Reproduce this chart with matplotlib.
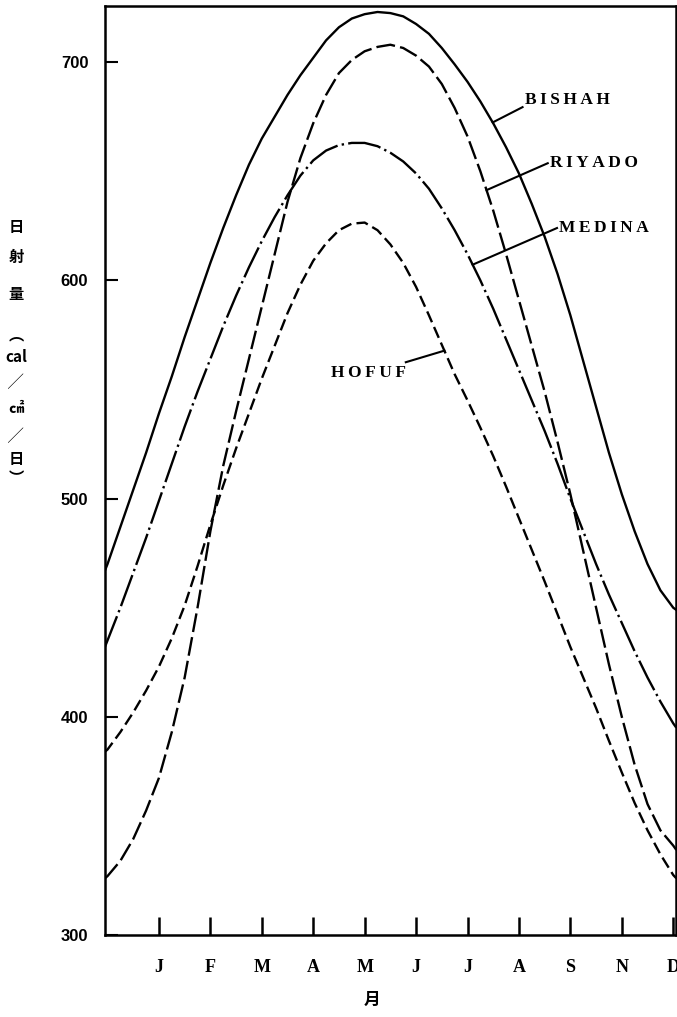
import matplotlib.pyplot as plt
import numpy as np

plt.rcParams['font.family'] = ['Liberation Serif', 'DejaVu Serif']

# months: J=1 ... D=11 tick positions, values every quarter month
months = [-0.05, 0, 0.25, 0.5, 0.75, 1, 1.25, 1.5, 1.75, 2, 2.25, 2.5, 2.75, 3, 3.25, 3.5, 3.75,
          4, 4.25, 4.5, 4.75, 5, 5.25, 5.5, 5.75, 6, 6.25, 6.5, 6.75, 7, 7.25, 7.5, 7.75,
          8, 8.25, 8.5, 8.75, 9, 9.25, 9.5, 9.75, 10, 10.25, 10.5, 10.75, 11, 11.06]
bishah = [467, 470, 487, 504, 521, 539, 556, 574, 591, 608, 624, 639, 653, 665, 675, 685, 694,
          702, 710, 716, 720, 722, 723, 722.5, 721, 717.5, 713, 706.5, 699, 691, 682, 672, 661,
          649, 635, 620, 603, 584, 563, 542, 521, 502, 485, 470, 458, 450, 449]
riyado = [326, 327, 334, 344, 357, 372, 393, 418, 450, 485, 515, 540, 564, 588, 612, 636, 656,
          672, 685, 695, 701, 705, 707, 708, 706.5, 703, 698, 690, 679, 666, 650, 632, 612,
          591, 570, 549, 526, 502, 476, 450, 424, 400, 378, 360, 348, 341, 339]
medina = [432, 435, 450, 466, 482, 499, 516, 533, 549, 564, 579, 593, 606, 618, 629, 639, 648,
          655, 659.5, 662, 663, 663, 661.5, 658.5, 654.5, 649, 642, 633, 623, 612, 600, 587, 573,
          559, 545, 531, 516, 500, 485, 470, 456, 443, 430, 418, 407, 397, 395]
hofuf = [384, 385, 393, 402, 412, 423, 436, 451, 469, 488, 506, 523, 539, 555, 570, 585, 598,
         609, 617, 623, 626, 626.5, 623, 616.5, 608, 597, 584, 570.5, 557, 545, 532.5, 519.5, 505.5,
         491, 476.5, 462, 447, 432, 418, 404, 389, 374.5, 360.5, 348, 337, 327.5, 326]

tick_labels = ['J', 'F', 'M', 'A', 'M', 'J', 'J', 'A', 'S', 'N', 'D']

fig = plt.figure(figsize=(6.77, 10.17), dpi=100)
ax = fig.add_axes([0.155, 0.0806, 0.844, 0.9134])

lw = 1.7
ax.plot(months, bishah, color='black', lw=lw)
ax.plot(months, riyado, color='black', lw=lw, linestyle=(0, (8, 2.2)))
ax.plot(months, medina, color='black', lw=lw, linestyle=(0, (14, 1.8, 1, 1.8)))
ax.plot(months, hofuf, color='black', lw=lw, linestyle=(0, (5, 2.2)))

ax.set_xlim(-0.05, 11.06)
ax.set_ylim(300, 725.7)

ax.set_xticks(range(1, 12))
ax.set_xticklabels(tick_labels, fontsize=13, fontweight='bold')
ax.set_yticks([300, 400, 500, 600, 700])
ax.set_yticklabels(['300', '400', '500', '600', '700'], fontsize=12,
                   fontweight='bold', family=['Liberation Sans', 'DejaVu Sans'])
ax.tick_params(axis='x', direction='in', length=13, width=1.8, pad=17)
ax.tick_params(axis='y', direction='in', length=9, width=1.5, pad=12)
for s in ax.spines.values():
    s.set_linewidth(1.8)

# curve labels with leader lines
def label(series, m_on, text, tx, ty, lx, ly, ha='left'):
    ax.plot([m_on, lx], [np.interp(m_on, months, series), ly], color='black', lw=1.5)
    ax.text(tx, ty, '\u2009'.join(text), ha=ha, va='center', fontsize=12.5, fontweight='bold')

label(bishah, 7.49, 'BISHAH', 8.11, 682.6, 8.07, 679.4)
label(riyado, 7.37, 'RIYADO', 8.6, 653.7, 8.56, 653.7)
label(medina, 7.1, 'MEDINA', 8.78, 624, 8.74, 624)
label(hofuf, 6.55, 'HOFUF', 5.8, 557.5, 5.8, 562.5, ha='right')

# vertical y label
cjk = ['Noto Sans CJK JP', 'DejaVu Sans']
ylab = [('日', 227), ('射', 257), ('量', 294), ('︵', 334), ('cal', 357),
        ('╱', 382), ('㎠', 408), ('╱', 436), ('日', 459), ('︶', 478)]
for ch, y in ylab:
    fig.text(16 / 677, 1 - y / 1017, ch, ha='center', va='center',
             fontsize=11, fontweight='bold', family=cjk)

fig.text(372 / 677, 1 - 1000 / 1017, '月', ha='center', va='center',
         fontsize=12, fontweight='bold', family=cjk)

fig.savefig('out.png', dpi=100)
